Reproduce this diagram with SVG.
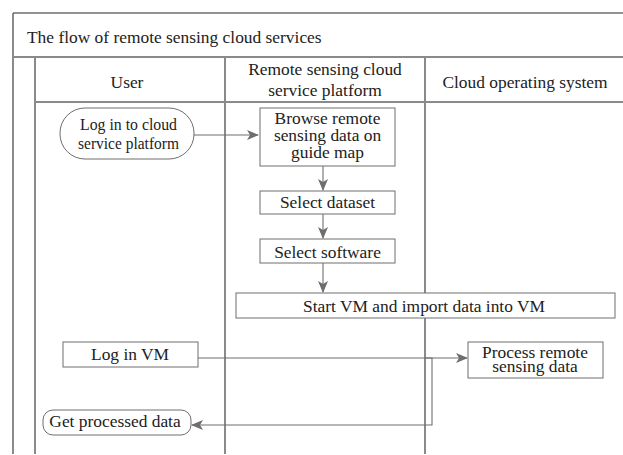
<svg xmlns="http://www.w3.org/2000/svg" width="623" height="455" viewBox="0 0 623 455">
<style>
.frame{stroke:#6e6e6e;stroke-width:1.6;fill:none}
.lane{stroke:#8a8a8a;stroke-width:2;fill:none}
.box{fill:#fff;stroke:#6e6e6e;stroke-width:1}
.con{stroke:#6e6e6e;stroke-width:1.1;fill:none}
text{font-family:"Liberation Serif","Times New Roman",serif;font-size:17.4px;fill:#222;text-anchor:middle}
.title{text-anchor:start}
</style>
<defs>
<marker id="ah" viewBox="0 0 12 10" refX="11" refY="5" markerWidth="12" markerHeight="10" markerUnits="userSpaceOnUse" orient="auto">
<path d="M0,0 L12,5 L0,10 L3,5 Z" fill="#6e6e6e"/>
</marker>
</defs>
<rect width="623" height="455" fill="#fff"/>
<g id="frame">
<line class="frame" x1="13" y1="13" x2="623" y2="13"/>
<line class="frame" x1="13" y1="13" x2="13" y2="454"/>
<line class="lane" x1="13" y1="57" x2="623" y2="57"/>
<line class="lane" x1="35" y1="57" x2="35" y2="454"/>
<line class="lane" x1="225" y1="57" x2="225" y2="454"/>
<line class="lane" x1="425" y1="57" x2="425" y2="454"/>
<line class="lane" x1="35" y1="102" x2="623" y2="102"/>
<text class="title" x="27" y="43">The flow of remote sensing cloud services</text>
<text x="127" y="88">User</text>
<text x="325" y="75">Remote sensing cloud</text>
<text x="325" y="96">service platform</text>
<text x="525" y="88">Cloud operating system</text>
</g>
<g id="connectors">
<line class="con" x1="194" y1="135" x2="258" y2="135" marker-end="url(#ah)"/>
<line class="con" x1="323" y1="166" x2="323" y2="190" marker-end="url(#ah)"/>
<line class="con" x1="323" y1="214" x2="323" y2="238" marker-end="url(#ah)"/>
<line class="con" x1="323" y1="263" x2="323" y2="292" marker-end="url(#ah)"/>
<line class="con" x1="198" y1="358" x2="467" y2="358" marker-end="url(#ah)"/>
<polyline class="con" points="425,358 432,358 432,425 192,425" marker-end="url(#ah)"/>
</g>
<g id="login-platform">
<rect class="box" x="60" y="108" width="134" height="51" rx="25" ry="25"/>
<text x="128.5" y="130" textLength="97" lengthAdjust="spacingAndGlyphs">Log in to cloud</text>
<text x="128.5" y="149" textLength="101" lengthAdjust="spacingAndGlyphs">service platform</text>
</g>
<g id="browse">
<rect class="box" x="260" y="108" width="135" height="58"/>
<text x="327.5" y="123.5">Browse remote</text>
<text x="327.5" y="141">sensing data on</text>
<text x="327.5" y="158">guide map</text>
</g>
<g id="select-dataset">
<rect class="box" x="260" y="191" width="135" height="23"/>
<text x="327.5" y="208">Select dataset</text>
</g>
<g id="select-software">
<rect class="box" x="260" y="239" width="135" height="24"/>
<text x="327.5" y="258">Select software</text>
</g>
<g id="start-vm">
<rect class="box" x="236" y="293" width="379" height="25"/>
<text x="424" y="312">Start VM and import data into VM</text>
</g>
<g id="login-vm">
<rect class="box" x="63" y="342" width="135" height="25"/>
<text x="130" y="360">Log in VM</text>
</g>
<g id="process">
<rect class="box" x="468" y="342" width="135" height="36"/>
<text x="535" y="358">Process remote</text>
<text x="535" y="372">sensing data</text>
</g>
<g id="get-data">
<rect class="box" x="43" y="410" width="148" height="25" rx="10" ry="10"/>
<text x="115" y="427">Get processed data</text>
</g>
</svg>
